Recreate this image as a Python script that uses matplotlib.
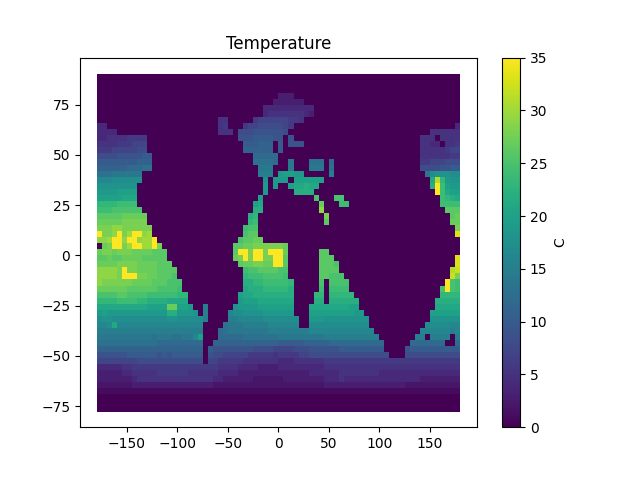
import numpy as np
import matplotlib
matplotlib.use("Agg")
import matplotlib.pyplot as plt

plt.rcParams["text.hinting"] = "auto"
plt.rcParams["text.hinting_factor"] = 8

# Temperature, one character per cell, base 36 (0-9, a=10 ... z=35).
# Each row runs west to east in 5 degree cells, rows run north to south in 3 degree steps.
temperature_rows = [
"000000 000000 000000 000000 000000 000000 000000 000000 000000 000000 000000 000000",
"000000 000000 000000 000000 000000 000000 000000 000000 000000 000000 000000 000000",
"000000 000000 000000 000000 000000 000000 000000 000000 000000 000000 000000 000000",
"000000 000000 000000 000000 000000 000000 333000 000000 000000 000000 000000 000000",
"000000 000000 000000 000000 000000 000003 333330 000000 000000 000000 000000 000000",
"000000 000000 000000 000000 000000 000444 444444 400000 000000 000000 000000 000000",
"000000 000000 000000 000000 000000 000455 555554 300000 000000 000000 000000 000000",
"000000 000000 000000 000000 550000 067777 776650 000000 000000 000000 000000 000000",
"440000 000000 000000 000000 560006 778888 876000 000000 000000 000000 000000 000004",
"444400 000000 000000 000000 555088 899999 980000 000000 000000 000000 000000 555555",
"445555 666600 000000 000000 000099 9aaaa9 909000 000000 000000 000000 000055 505555",
"555566 677700 000000 000000 00000a aabbb0 a09990 000000 000000 000000 000055 440556",
"666777 778800 000000 000000 00000b bbbbb0 a00000 000000 000000 000000 000055 555677",
"888899 999aa0 000000 000000 000000 0ccccc 000000 000000 000000 000000 000055 555566",
"aaaaaa aabbb0 000000 000000 000000 0ddddc 00e000 ddd0c0 000000 000000 000066 777888",
"bbbbbb cccdd0 000000 000000 000000 00eee0 00e000 eee0d0 000000 000000 000088 8899aa",
"dddeee eee000 000000 000000 000000 00fff0 jkkjj0 0000f0 000000 000000 00000e hiiihh",
"ggghhh hhh000 000000 000000 000000 000i0j jj0kkk kkk000 000000 000000 000000 lvnjii",
"iiiiii ii0000 000000 000000 000000 000j0j 00kllm ll0000 000000 000000 000000 mzokjj",
"jjjjkk kk0000 000000 000000 000000 000j00 000mmm m00000 000000 000000 000000 0zolkk",
"kkkkkl ll0000 000000 000000 000000 00k000 000000 0p000p p00000 000000 000000 00onml",
"nnnnoo oo0000 000000 000000 000000 0kl000 000000 00r000 oo0000 000000 000000 00oooo",
"oooppp ppp000 000000 000000 000000 0mm000 000000 00t000 000000 000000 000000 000qqq",
"qqqqqr rrrr00 000000 000000 000000 mn0000 000000 000s00 000000 000000 000000 0000qr",
"rrrrrs ssss00 000000 000000 000000 no0000 000000 000q00 000000 000000 000000 0000rr",
"ssstts sssss0 000000 000000 00000o pp0000 000000 000000 000000 000000 000000 00000s",
"zsstzs uzztu0 000000 000000 00000p qq0000 000000 000000 000000 000000 000000 00000x",
"ttuzzt zztuuz 000000 000000 0000pq qrr000 000000 000000 000000 000000 000000 000000",
"0rszzs uzzuuz s00000 000000 000qqr rsssss sr0000 000000 000000 000000 000000 000000",
"rssrss srrrrq qq0000 000000 000qzz szzszz zr0000 00qq00 000000 000000 000000 000000",
"qqrqqr rrrqqq qq0000 000000 000rsz szzssz zq0000 00qqq0 000000 000000 000000 00000x",
"rrrrss ssrrrr qqq000 000000 0000qr rssrrz zq0000 00qqqp 000000 000000 000000 00000x",
"ttttsz ssrrrr qqqq00 000000 00000o ppqqqq pp0000 00qqqq 000000 000000 000000 0000vw",
"ttttsz zzssrr qqqp00 000000 00000n oooppp po0000 00qqpp p00000 000000 000000 0000ws",
"tsssss srrrrq qqppp0 000000 00000m mnnooo oon000 00p0pp pp0000 000000 000000 000zpo",
"rrrrrr qqqqqq ppppo0 000000 00000l mmmnnn nnm000 00o0oo oo0000 000000 000000 00pzpo",
"ppppqq ppppoo oooonn 000000 0000kl lmmmmm mmm000 0nn0nn nnn000 000000 000000 00nnnn",
"nnnnoo oonnmm mmllll 000000 0000jk kkllll lll000 0mm0mm mmmm00 000000 000000 0mmmmm",
"llllll llllkk kkrrkk j00f00 000ijj jjkkkk kkk000 llllll llkk00 000000 000000 0lllll",
"jkjjjj jjjjjj jjmmjj ji0f00 00ghhi iiijjj jjj000 kkkkkk kkkjj0 000000 000000 kkkkkk",
"hiihhh hhhhhh hhiihh hhhf00 00ffgg ggghhh hhhh00 jjjiii iiiiii 000000 000000 iiiiii",
"gghlgg gggggg gggggg ggg000 0deeef ffffgg gggg00 hhhhhh hhhhhh 000000 00000h hhhhgg",
"ffffff ffffff ffffff fff000 cdeeee eeeeff ffffff gggggg gggggg g00000 0000gg ggggfg",
"eeeeee eeeeed eeedde egk000 cccccd dddddd eeeeee eeefff ffffff ff0000 000ff0 ffff0f",
"dddddd dddddd cccccc ccc00b bbbbbb bbbbbb aaaaab bbbbcc cccccc ccc000 00cccc ccc00c",
"bbbbbb bbbbbb bbbbbb bbb0a9 999999 988887 777888 999999 aaaaaa aaa000 09aaaa aaaaaa",
"999999 aaaaaa 9a9aaa aaa098 877777 666665 666677 888888 888888 888800 088888 888888",
"777777 778888 888888 888077 666665 555555 444555 555666 666666 666666 666666 666666",
"444445 566666 666666 666666 555544 443333 444444 444555 555555 555555 555555 555555",
"333334 455555 666666 555555 444433 333333 333333 444444 555555 554444 444444 444444",
"333333 345555 555555 555554 433333 322222 233333 333444 544444 444444 444433 333333",
"222222 233333 333333 333332 222222 222222 222222 222333 333333 333333 322222 222222",
"111111 111111 111111 111111 111111 111111 111111 111111 111111 111111 111111 111111",
"000000 000000 000000 000000 000000 000000 000000 000000 000000 000000 000000 000000",
"000000 000000 000000 000000 000000 000000 000000 000000 000000 000000 000000 000000",
"000000 000000 000000 000000 000000 000000 000000 000000 000000 000000 000000 000000",
]
lon_edges = np.arange(-180, 181, 5)
lat_edges = np.arange(90, -79, -3)
colorbar_ticks = [0, 5, 10, 15, 20, 25, 30, 35]
x_ticks = [-150, -100, -50, 0, 50, 100, 150]
y_ticks = [-75, -50, -25, 0, 25, 50, 75]

values = np.array([[int(c, 36) for c in row.replace(" ", "")] for row in temperature_rows], dtype=float)

fig, ax = plt.subplots(figsize=(6.4, 4.8), dpi=100)
mesh = ax.pcolormesh(lon_edges, lat_edges, values, cmap="viridis", vmin=0, vmax=35)
ax.set_title("Temperature")
ax.set_xlim(-196.5, 196.5)
ax.set_ylim(-85.5, 98.4)
ax.set_xticks(x_ticks)
ax.set_yticks(y_ticks)
cbar = fig.colorbar(mesh, ax=ax, ticks=colorbar_ticks)
cbar.set_label("C")
fig.savefig("out.png", dpi=100)
